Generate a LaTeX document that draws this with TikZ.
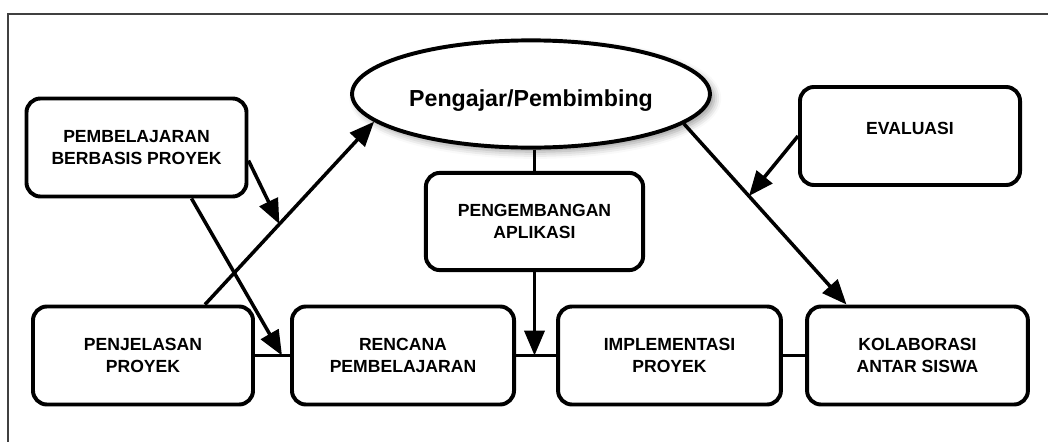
\documentclass[tikz,border=0pt]{standalone}
\usepackage{fontspec}
\setmainfont{Liberation Sans}
\usetikzlibrary{shapes.geometric, arrows.meta, calc, shadows.blur}

\begin{document}
\begin{tikzpicture}[x=0.025cm, y=-0.025cm,
		kotak/.style={draw, line width=2.8pt, rounded corners=0.35cm, align=center,
			minimum width=5.5cm, minimum height=2.45cm, inner sep=0pt,
			font=\fontsize{12.5}{15.5}\selectfont\bfseries},
		panah/.style={-{Triangle[length=0.62cm, width=0.5cm]}, line width=2.5pt},
		garis/.style={line width=2.6pt}]
		\useasboundingbox (0,0) rectangle (1048,442);
		
		% bingkai
		\draw[line width=1.4pt, black!75] (1048,14) -- (8,14) -- (8,442);
		
		\node [ellipse, draw, fill=white, line width=2.8pt, minimum width=8.35cm, minimum height=2.68cm,
			text height=17.5pt, text depth=0pt, font=\fontsize{16.5}{20}\selectfont\bfseries,
			blur shadow={shadow xshift=3pt, shadow yshift=-3pt, shadow blur radius=5pt}]
			(pengajar) at (531,94) {Pengajar/Pembimbing};
		
		\node [kotak] (pembelajaran) at (136.5,147.5) {PEMBELAJARAN\\BERBASIS PROYEK};
		\node [kotak, minimum width=5.43cm, minimum height=2.43cm] (pengembangan) at (534.5,221.5) {PENGEMBANGAN\\APLIKASI};
		\node [kotak, text depth=0.4cm] (evaluasi) at (910,136) {EVALUASI};
		
		\node [kotak] (penjelasan) at (143,355.5) {PENJELASAN\\PROYEK};
		\node [kotak, minimum width=5.55cm] (rencana) at (403,355.5) {RENCANA\\PEMBELAJARAN};
		\node [kotak, minimum width=5.57cm] (implementasi) at (669.5,355.5) {IMPLEMENTASI\\PROYEK};
		\node [kotak, minimum width=5.52cm] (kolaborasi) at (917.5,355.5) {KOLABORASI\\ANTAR SISWA};
		
		\begin{scope}[garis]
			\draw (pengajar.south -| pengembangan.north) -- (pengembangan.north);
			\draw (penjelasan) -- (rencana);
			\draw (rencana) -- (implementasi);
			\draw (implementasi) -- (kolaborasi);
		\end{scope}
		
		\begin{scope}[panah]
			\draw ($(penjelasan.north)+(62,0)$) -- coordinate[pos=0.44] (titikA) (pengajar.190);
			\draw (pengajar.-11) -- coordinate[pos=0.4] (titikB) ($(kolaborasi.north)+(-71,0)$);
			\draw ($(pembelajaran.east)+(0,13)$) -- (titikA);
			\draw (evaluasi.west) -- (titikB);
			\draw ($(pembelajaran.south)+(55,0)$) -- ($(rencana.west)+(-8,0)$);
			\draw (pengembangan.south) -- (pengembangan.south |- rencana.east);
		\end{scope}
	\end{tikzpicture}
\end{document}
